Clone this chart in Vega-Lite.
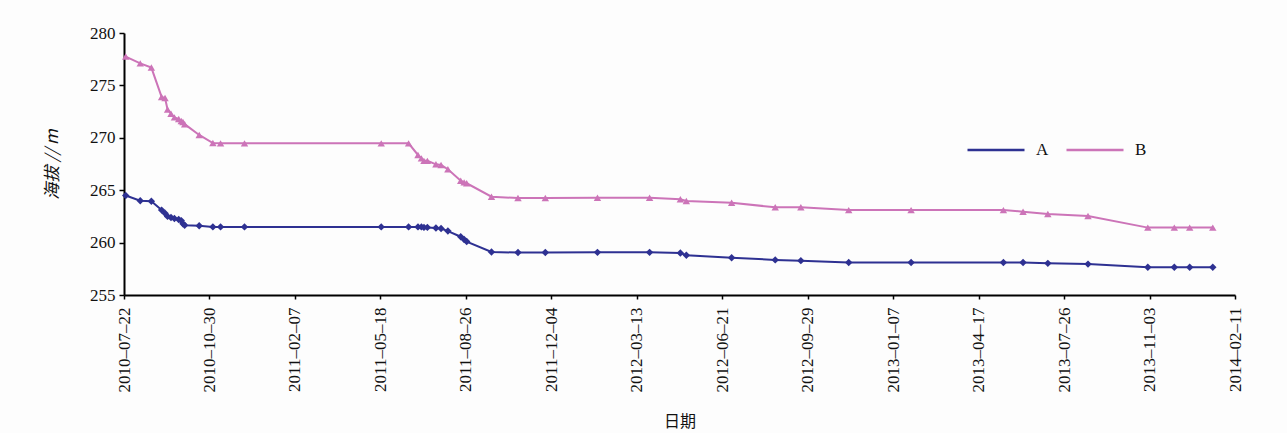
{
  "$schema": "https://vega.github.io/schema/vega-lite/v6.json",
  "autosize": "none",
  "width": 1111,
  "height": 262,
  "padding": {"left": 124, "top": 33, "right": 52, "bottom": 138},
  "background": "#fdfdfd",
  "config": {"view": {"stroke": null}, "font": "Liberation Serif"},
  "data": {"values": [
    {"date": "2010-07-24", "A": 264.5, "B": 277.75},
    {"date": "2010-08-10", "A": 264.0, "B": 277.1},
    {"date": "2010-08-23", "A": 263.95, "B": 276.7},
    {"date": "2010-09-04", "A": 263.1, "B": 273.9},
    {"date": "2010-09-08", "A": 262.8, "B": 273.8},
    {"date": "2010-09-11", "A": 262.5, "B": 272.7},
    {"date": "2010-09-15", "A": 262.4, "B": 272.3},
    {"date": "2010-09-19", "A": 262.3, "B": 271.95},
    {"date": "2010-09-24", "A": 262.2, "B": 271.8},
    {"date": "2010-09-27", "A": 262.1, "B": 271.6},
    {"date": "2010-09-29", "A": 261.8, "B": 271.5},
    {"date": "2010-10-01", "A": 261.65, "B": 271.3},
    {"date": "2010-10-18", "A": 261.6, "B": 270.27},
    {"date": "2010-11-03", "A": 261.5, "B": 269.5},
    {"date": "2010-11-12", "A": 261.5, "B": 269.47},
    {"date": "2010-12-10", "A": 261.5, "B": 269.47},
    {"date": "2011-05-19", "A": 261.5, "B": 269.47},
    {"date": "2011-06-20", "A": 261.5, "B": 269.47},
    {"date": "2011-07-01", "A": 261.5, "B": 268.36},
    {"date": "2011-07-05", "A": 261.5, "B": 268.04},
    {"date": "2011-07-08", "A": 261.45, "B": 267.8},
    {"date": "2011-07-12", "A": 261.45, "B": 267.8},
    {"date": "2011-07-22", "A": 261.4, "B": 267.47},
    {"date": "2011-07-28", "A": 261.35, "B": 267.4},
    {"date": "2011-08-05", "A": 261.1, "B": 267.0},
    {"date": "2011-08-20", "A": 260.56, "B": 265.9},
    {"date": "2011-08-24", "A": 260.3, "B": 265.75},
    {"date": "2011-08-27", "A": 260.1, "B": 265.66},
    {"date": "2011-09-25", "A": 259.1, "B": 264.38},
    {"date": "2011-10-26", "A": 259.05, "B": 264.25},
    {"date": "2011-11-27", "A": 259.05, "B": 264.25},
    {"date": "2012-01-27", "A": 259.07, "B": 264.28},
    {"date": "2012-03-28", "A": 259.07, "B": 264.28},
    {"date": "2012-05-03", "A": 259.0, "B": 264.13},
    {"date": "2012-05-10", "A": 258.8, "B": 263.97},
    {"date": "2012-07-02", "A": 258.56, "B": 263.8},
    {"date": "2012-08-22", "A": 258.35, "B": 263.37},
    {"date": "2012-09-21", "A": 258.28, "B": 263.37},
    {"date": "2012-11-16", "A": 258.1, "B": 263.1},
    {"date": "2013-01-28", "A": 258.1, "B": 263.1},
    {"date": "2013-05-16", "A": 258.1, "B": 263.1},
    {"date": "2013-06-08", "A": 258.1, "B": 262.95},
    {"date": "2013-07-07", "A": 258.02, "B": 262.73},
    {"date": "2013-08-23", "A": 257.95, "B": 262.54},
    {"date": "2013-11-01", "A": 257.65, "B": 261.43},
    {"date": "2013-12-02", "A": 257.65, "B": 261.43},
    {"date": "2013-12-20", "A": 257.65, "B": 261.43},
    {"date": "2014-01-16", "A": 257.65, "B": 261.43}
  ]},
  "transform": [{"fold": ["A", "B"], "as": ["series", "elev"]}],
  "encoding": {
    "x": {
      "field": "date", "type": "temporal",
      "scale": {"type": "utc", "domain": [{"year": 2010, "month": 7, "date": 22, "utc": true}, {"year": 2014, "month": 2, "date": 11, "utc": true}]},
      "axis": {
        "title": "日期", "titleFont": "Noto Sans CJK SC", "titleFontSize": 16, "titleFontWeight": "normal", "titleColor": "#111", "titlePadding": 21,
        "labelExpr": "utcFormat(datum.value, '%Y–%m–%d')",
        "values": [
          {"year": 2010, "month": 7, "date": 22, "utc": true},
          {"year": 2010, "month": 10, "date": 30, "utc": true},
          {"year": 2011, "month": 2, "date": 7, "utc": true},
          {"year": 2011, "month": 5, "date": 18, "utc": true},
          {"year": 2011, "month": 8, "date": 26, "utc": true},
          {"year": 2011, "month": 12, "date": 4, "utc": true},
          {"year": 2012, "month": 3, "date": 13, "utc": true},
          {"year": 2012, "month": 6, "date": 21, "utc": true},
          {"year": 2012, "month": 9, "date": 29, "utc": true},
          {"year": 2013, "month": 1, "date": 7, "utc": true},
          {"year": 2013, "month": 4, "date": 17, "utc": true},
          {"year": 2013, "month": 7, "date": 26, "utc": true},
          {"year": 2013, "month": 11, "date": 3, "utc": true},
          {"year": 2014, "month": 2, "date": 11, "utc": true}
        ],
        "labelAngle": -90, "labelFont": "Liberation Serif", "labelFontSize": 17, "labelColor": "#111",
        "labelPadding": 8, "labelOverlap": false, "labelFlush": false,
        "grid": false, "domainColor": "#000", "domainWidth": 2, "tickColor": "#000", "tickSize": 4, "tickDirection": "in",
        "tickWidth": 1.5
      }
    },
    "y": {
      "field": "elev", "type": "quantitative",
      "scale": {"domain": [255, 280], "nice": false, "zero": false},
      "axis": {
        "title": "海拔 // m", "titleFont": "Noto Sans CJK SC", "titleFontStyle": "italic", "titleFontSize": 17, "titleFontWeight": "normal", "titleColor": "#111", "titlePadding": 28,
        "values": [255, 260, 265, 270, 275, 280],
        "labelFont": "Liberation Serif", "labelFontSize": 17, "labelColor": "#111", "labelPadding": 4,
        "grid": false, "domainColor": "#000", "domainWidth": 2, "tickColor": "#000", "tickSize": 5, "tickWidth": 1.5
      }
    },
    "color": {
      "field": "series", "type": "nominal",
      "scale": {"domain": ["A", "B"], "range": ["#2e3192", "#cc74b8"]},
      "legend": {
        "title": null, "orient": "none", "legendX": 842, "legendY": 87, "direction": "horizontal",
        "symbolType": "stroke", "symbolSize": 3249, "symbolStrokeWidth": 2.5,
        "labelFont": "Liberation Serif", "labelFontSize": 17, "labelColor": "#111", "labelOffset": 10,
        "columnPadding": 12
      }
    }
  },
  "layer": [
    {"mark": {"type": "line", "strokeWidth": 2}},
    {"transform": [{"filter": "datum.series == 'A'"}],
     "mark": {"type": "point", "filled": true, "opacity": 1, "shape": "diamond", "size": 55}},
    {"transform": [{"filter": "datum.series == 'B'"}],
     "mark": {"type": "point", "filled": true, "opacity": 1, "shape": "triangle-up", "size": 55}}
  ]
}
